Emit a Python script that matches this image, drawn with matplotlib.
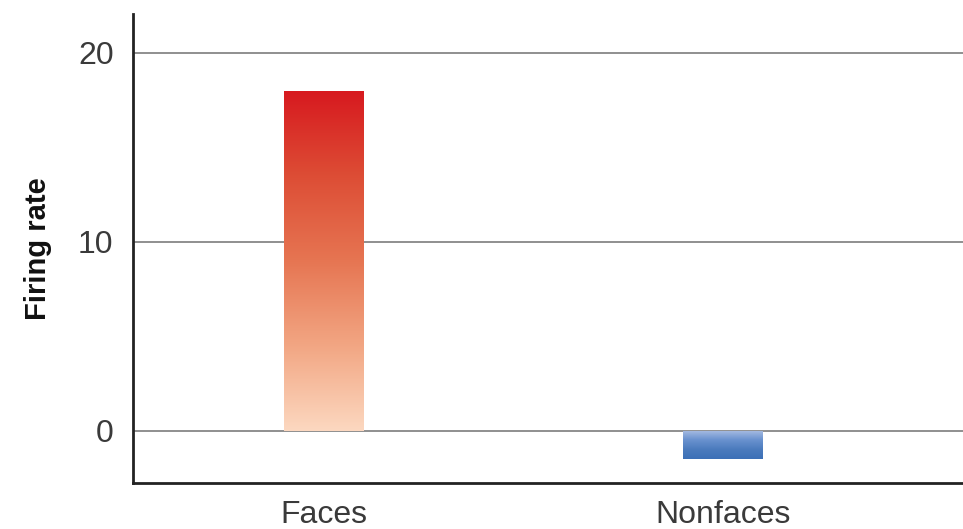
import numpy as np
import matplotlib.pyplot as plt
from matplotlib.colors import LinearSegmentedColormap

categories = ['Faces', 'Nonfaces']
firing_rate = [18.0, -1.5]
y_ticks = [0, 10, 20]

# gradient colours, listed from bar base (at 0) to bar tip
gradients = [['#fcd8c0', '#f2a683', '#e67552', '#dd4d35', '#d7191f'],
             ['#a9bde2', '#6a92cf', '#4b7bbd', '#3c70b7']]

fig = plt.figure(figsize=(9.63, 5.29), dpi=100)
ax = fig.add_axes([0.1381, 0.087, 0.862, 0.8866])

x = np.arange(len(categories))
bars = ax.bar(x, firing_rate, width=0.2, color='none', zorder=3)

grad = np.linspace(0, 1, 256).reshape(-1, 1)
for bar, val, cols in zip(bars, firing_rate, gradients):
    cmap = LinearSegmentedColormap.from_list('g', cols)
    x0 = bar.get_x()
    x1 = x0 + bar.get_width()
    if val >= 0:
        img = ax.imshow(grad, cmap=cmap, aspect='auto', origin='lower',
                        extent=[x0, x1, 0, val], zorder=3)
    else:
        img = ax.imshow(grad[::-1], cmap=cmap, aspect='auto', origin='lower',
                        extent=[x0, x1, val, 0], zorder=3)
    img.set_clip_path(bar)

ax.set_xlim(-0.478, 1.6)
ax.set_ylim(-2.75, 22.06)
ax.set_yticks(y_ticks)
ax.set_xticks(x)
ax.set_xticklabels(categories)

for y in y_ticks:
    ax.axhline(y, color='#8f8f8f', linewidth=1.4, zorder=1)

ax.tick_params(axis='both', length=0, labelsize=23, labelcolor='#3a3a3a', pad=14)
ax.tick_params(axis='x', pad=12)
ax.set_ylabel('Firing rate', fontsize=21, fontweight='bold', color='#111111', labelpad=19)

for side in ['top', 'right']:
    ax.spines[side].set_visible(False)
for side in ['left', 'bottom']:
    ax.spines[side].set_linewidth(2)
    ax.spines[side].set_color('#222222')

for lab in ax.get_xticklabels() + ax.get_yticklabels():
    lab.set_family(['Liberation Sans', 'DejaVu Sans'])
ax.yaxis.label.set_family(['Liberation Sans', 'DejaVu Sans'])

fig.savefig('out.png', dpi=100)
